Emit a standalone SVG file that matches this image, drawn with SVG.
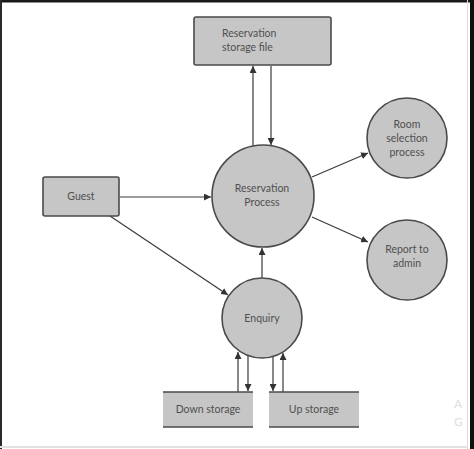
<svg xmlns="http://www.w3.org/2000/svg" width="474" height="449" viewBox="0 0 474 449">
<defs>
<marker id="ah" viewBox="0 0 10 10" refX="10" refY="5" markerWidth="7" markerHeight="7" markerUnits="userSpaceOnUse" orient="auto">
<path d="M0,0 L10,5 L0,10 z" fill="#333"/>
</marker>
<style>
.shape{fill:#c6c6c6;stroke:#4a4a4a;stroke-width:1.6}
.store{fill:#c6c6c6;stroke:none}
.edge{stroke:#4a4a4a;stroke-width:1.5}
.conn{stroke:#3a3a3a;stroke-width:1.2;fill:none;marker-end:url(#ah)}
.plain{stroke:#3a3a3a;stroke-width:1.2;fill:none}
text{font-family:Lato,"Open Sans","Liberation Sans",sans-serif;font-size:10.5px;fill:#505050}
.c{text-anchor:middle}
</style>
</defs>
<rect x="0" y="0" width="474" height="449" fill="#fff"/>
<rect x="0" y="0" width="474" height="2.5" fill="#1a1a1a"/>
<rect x="0" y="0" width="2" height="449" fill="#2a2a2a"/>
<rect x="470" y="0" width="4" height="449" fill="#111"/>
<line x1="467.5" y1="0" x2="467.5" y2="449" stroke="#ddd" stroke-width="1"/>
<line x1="0" y1="447" x2="468" y2="447" stroke="#e2e2e2" stroke-width="2"/>

<g id="connectors">
<line class="conn" x1="253" y1="146" x2="253" y2="66"/>
<line class="conn" x1="271" y1="66" x2="271" y2="145"/>
<line class="conn" x1="120" y1="197" x2="211" y2="197"/>
<line class="conn" x1="110" y1="216" x2="228" y2="295"/>
<line class="conn" x1="312" y1="177" x2="368" y2="153"/>
<line class="conn" x1="312" y1="217" x2="368" y2="242"/>
<line class="conn" x1="262" y1="278" x2="262" y2="248"/>
<line class="conn" x1="238" y1="392" x2="238" y2="352"/>
<line class="conn" x1="248" y1="355" x2="248" y2="391"/>
<line class="conn" x1="273" y1="356" x2="273" y2="391"/>
<line class="conn" x1="283" y1="392" x2="283" y2="353"/>
</g>

<g id="reservation-storage-file">
<rect class="shape" x="194" y="17" width="137" height="48" rx="2"/>
<text x="222" y="37">Reservation</text>
<text x="222" y="51">storage file</text>
</g>

<g id="guest">
<rect class="shape" x="43" y="177" width="76" height="39" rx="2"/>
<text class="c" x="81" y="200">Guest</text>
</g>

<g id="reservation-process">
<circle class="shape" cx="263" cy="196" r="51"/>
<text class="c" x="262" y="192">Reservation</text>
<text class="c" x="262" y="206">Process</text>
</g>

<g id="room-selection-process">
<circle class="shape" cx="407" cy="138" r="40"/>
<text class="c" x="407" y="128">Room</text>
<text class="c" x="407" y="142">selection</text>
<text class="c" x="407" y="156">process</text>
</g>

<g id="report-to-admin">
<circle class="shape" cx="407" cy="260" r="40"/>
<text class="c" x="407" y="253">Report to</text>
<text class="c" x="407" y="267">admin</text>
</g>

<g id="enquiry">
<circle class="shape" cx="262" cy="318" r="40"/>
<text class="c" x="262" y="322">Enquiry</text>
</g>

<g id="down-storage">
<rect class="store" x="163" y="392" width="90" height="35"/>
<line class="edge" x1="163" y1="392" x2="253" y2="392"/>
<line class="edge" x1="163" y1="427" x2="253" y2="427"/>
<text class="c" x="208" y="413">Down storage</text>
</g>

<g id="up-storage">
<rect class="store" x="269" y="392" width="90" height="35"/>
<line class="edge" x1="269" y1="392" x2="359" y2="392"/>
<line class="edge" x1="269" y1="427" x2="359" y2="427"/>
<text class="c" x="314" y="413">Up storage</text>
</g>

<text x="454" y="408" style="font-size:12px;fill:#ddd">A</text>
<text x="454" y="426" style="font-size:12px;fill:#ddd">G</text>
</svg>
